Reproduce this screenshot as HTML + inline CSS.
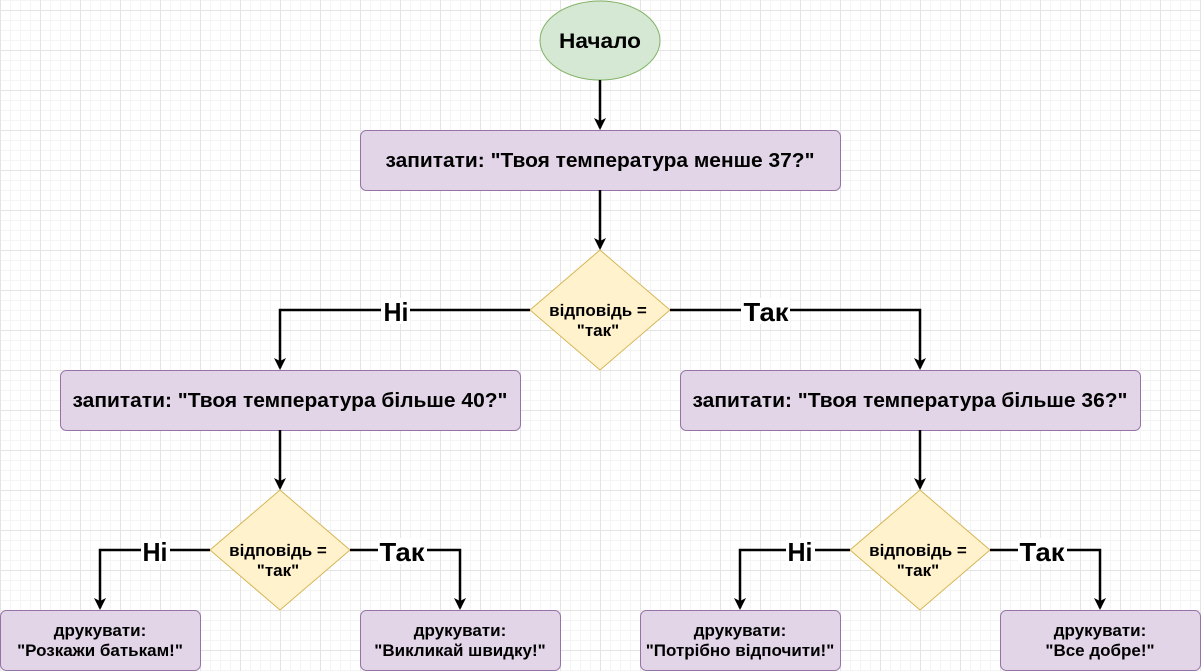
<!DOCTYPE html>
<html><head><meta charset="utf-8"><style>
html,body{margin:0;padding:0;}
body{width:1201px;height:671px;overflow:hidden;background-color:#fff;
background-image:
linear-gradient(to right,#e4e4e4 1px,transparent 1px),
linear-gradient(to bottom,#e4e4e4 1px,transparent 1px),
linear-gradient(to right,#f4f4f4 1px,transparent 1px),
linear-gradient(to bottom,#f4f4f4 1px,transparent 1px);
background-size:40px 40px,40px 40px,10px 10px,10px 10px;
background-position:0 10px,0 10px,0 0,0 0;
font-family:"Liberation Sans",sans-serif;}
svg{position:absolute;left:0;top:0;}
text{font-family:"Liberation Sans",sans-serif;font-weight:bold;fill:#000;}
</style></head><body>
<svg width="1201" height="671" xmlns="http://www.w3.org/2000/svg">
<defs><marker id="a" markerWidth="12" markerHeight="12" refX="10" refY="6" orient="auto" markerUnits="userSpaceOnUse"><path d="M0,0 L12,6 L0,12 L3,6 Z" fill="#000"/></marker></defs>
<g fill="#e1d5e7" stroke="#9673a6" stroke-width="1">
<rect x="360.5" y="130.5" width="480" height="60" rx="6"/>
<rect x="60.5" y="370.5" width="460" height="60" rx="6"/>
<rect x="680.5" y="370.5" width="460" height="60" rx="6"/>
<rect x="0.5" y="610.5" width="200" height="60" rx="6"/>
<rect x="360.5" y="610.5" width="200" height="60" rx="6"/>
<rect x="640.5" y="610.5" width="200" height="60" rx="6"/>
<rect x="1000.5" y="610.5" width="200" height="60" rx="6"/>
</g>
<ellipse cx="600" cy="40.5" rx="60" ry="39.5" fill="#d5e8d4" stroke="#82b366"/>
<g fill="#fff2cc" stroke="#d6b656">
<polygon points="600,250 670,310 600,370 530,310"/>
<polygon points="280,490 350,550 280,610 210,550"/>
<polygon points="920,490 990,550 920,610 850,550"/>
</g>
<g stroke="#000" stroke-width="2.5" fill="none" marker-end="url(#a)">
<path d="M600,80 V128"/>
<path d="M600,190 V248"/>
<path d="M530,310 H280 V368"/>
<path d="M670,310 H920 V368"/>
<path d="M280,430 V488"/>
<path d="M920,430 V488"/>
<path d="M210,550 H100 V608"/>
<path d="M350,550 H460 V608"/>
<path d="M850,550 H740 V608"/>
<path d="M990,550 H1100 V608"/>
</g>
<g fill="#fff">
<rect x="381" y="298" width="29" height="26"/>
<rect x="741" y="298" width="49" height="26"/>
<rect x="141" y="538" width="29" height="26"/>
<rect x="378" y="538" width="49" height="26"/>
<rect x="786" y="538" width="29" height="26"/>
<rect x="1018" y="538" width="49" height="26"/>
</g>
<g font-size="26" text-anchor="middle">
<text x="396" y="321" textLength="25" lengthAdjust="spacingAndGlyphs">Ні</text><text x="766" y="321" textLength="45" lengthAdjust="spacingAndGlyphs">Так</text>
<text x="155" y="561" textLength="25" lengthAdjust="spacingAndGlyphs">Ні</text><text x="402" y="561" textLength="45" lengthAdjust="spacingAndGlyphs">Так</text>
<text x="800" y="561" textLength="25" lengthAdjust="spacingAndGlyphs">Ні</text><text x="1042" y="561" textLength="45" lengthAdjust="spacingAndGlyphs">Так</text>
</g>
<text x="600" y="48" font-size="21" text-anchor="middle" textLength="82" lengthAdjust="spacingAndGlyphs">Начало</text>
<g font-size="20.5" text-anchor="middle">
<text x="600" y="167" textLength="429" lengthAdjust="spacingAndGlyphs">запитати: "Твоя температура менше 37?"</text>
<text x="290" y="407" textLength="435" lengthAdjust="spacingAndGlyphs">запитати: "Твоя температура більше 40?"</text>
<text x="910" y="407" textLength="435" lengthAdjust="spacingAndGlyphs">запитати: "Твоя температура більше 36?"</text>
</g>
<g font-size="17" text-anchor="middle">
<text x="598" y="316">відповідь =</text><text x="598" y="336">"так"</text>
<text x="278" y="556">відповідь =</text><text x="278" y="576">"так"</text>
<text x="918" y="556">відповідь =</text><text x="918" y="576">"так"</text>
<text x="100" y="636">друкувати:</text><text x="100" y="656">"Розкажи батькам!"</text>
<text x="460" y="636">друкувати:</text><text x="460" y="656">"Викликай швидку!"</text>
<text x="740" y="636">друкувати:</text><text x="740" y="656">"Потрібно відпочити!"</text>
<text x="1100" y="636">друкувати:</text><text x="1100" y="656">"Все добре!"</text>
</g>
</svg>
</body></html>
